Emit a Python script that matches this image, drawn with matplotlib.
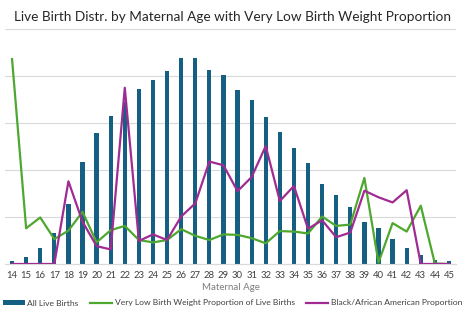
import numpy as np
import matplotlib
matplotlib.use('Agg')
import matplotlib.pyplot as plt

plt.rcParams['font.family'] = ['Lato', 'DejaVu Sans']

ages = [str(a) for a in range(14, 46)]

# all live births (relative scale, no y labels in the original)
live_births = [0.06, 0.14, 0.33, 0.67, 1.28, 2.18, 2.78, 3.14, 3.45, 3.73,
               3.92, 4.11, 4.38, 4.38, 4.13, 4.03, 3.71, 3.48, 3.12, 2.80,
               2.46, 2.14, 1.70, 1.46, 1.22, 0.89, 0.77, 0.54, 0.35, 0.19,
               0.08, 0.06]

vlbw_prop = [4.36, 0.76, 0.99, 0.53, 0.71, 1.11, 0.46, 0.72, 0.81, 0.51,
             0.46, 0.51, 0.74, 0.60, 0.51, 0.63, 0.62, 0.55, 0.44, 0.70,
             0.69, 0.65, 1.01, 0.81, 0.84, 1.83, 0.03, 0.87, 0.69, 1.24,
             0.01, 0.0]

black_prop = [0.0, 0.0, 0.0, 0.0, 1.76, 0.90, 0.38, 0.31, 3.75, 0.49,
              0.63, 0.51, 1.01, 1.29, 2.18, 2.10, 1.55, 1.85, 2.51, 1.34,
              1.66, 0.75, 0.93, 0.57, 0.67, 1.56, 1.42, 1.31, 1.57, 0.0,
              0.0, 0.0]

bar_col = '#156082'
green = '#4ea72e'
purple = '#a02b93'

fig = plt.figure(figsize=(4.65, 3.27), dpi=100)
ax = fig.add_axes([5/465, 1-264/327, 451/465, 235/327])

x = np.arange(len(ages))
b = ax.bar(x, live_births, width=0.3, color=bar_col, label='All Live Births', zorder=2)
l1, = ax.plot(x, vlbw_prop, color=green, lw=1.6, label='Very Low Birth Weight Proportion of Live Births', zorder=3)
l2, = ax.plot(x, black_prop, color=purple, lw=1.6, label='Black/African American Proportion', zorder=4)

ax.set_xlim(-0.5, len(ages) - 0.5)
ax.set_ylim(0, 5)
ax.set_yticks(np.arange(0, 6))
ax.yaxis.grid(True, color='#d9d9d9', lw=0.8, zorder=0)
ax.tick_params(axis='y', left=False, labelleft=False)
ax.set_xticks(x)
ax.set_xticklabels(ages, fontsize=6.8, color='#404040')
ax.tick_params(axis='x', length=0, pad=5)
for s in ['top', 'left', 'right']:
    ax.spines[s].set_visible(False)
ax.spines['bottom'].set_color('#d9d9d9')

ax.set_xlabel('Maternal Age', fontsize=7, color='#7f7f7f', labelpad=2)
fig.text(0.5, 1-17/327, 'Live Birth Distr. by Maternal Age with Very Low Birth Weight Proportion',
         ha='center', va='center', fontsize=9.8, color='#262626')

leg = fig.legend([b, l1, l2], [b.get_label(), l1.get_label(), l2.get_label()],
                 loc='center', bbox_to_anchor=(0.5, 1-303/327), ncol=3, frameon=False,
                 fontsize=6.1, handlelength=2.6, handleheight=0.5, handletextpad=0.25,
                 columnspacing=1.4, borderpad=0)
for t in leg.get_texts():
    t.set_color('#404040')

fig.savefig('out.png', dpi=100)
